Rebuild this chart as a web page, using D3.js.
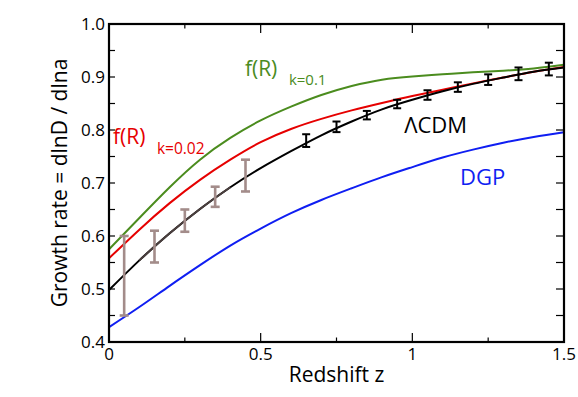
<!DOCTYPE html>
<html lang="en">
<head>
    <meta charset="UTF-8">
    <title>Growth rate vs redshift</title>
    <script src="https://cdnjs.cloudflare.com/ajax/libs/d3/7.8.5/d3.min.js"></script>
    <style>
        body {
            margin: 0;
            padding: 0;
            background-color: #fff;
            font-family: "Open Sans", sans-serif;
        }
    </style>
</head>
<body>
    <div id="chart"></div>

    <script>
        // Model curves
        const zGrid = [0, 0.1, 0.2, 0.3, 0.4, 0.5, 0.6, 0.7, 0.8, 0.9, 1.0, 1.1, 1.2, 1.3, 1.4, 1.5];
        const lcdm   = [0.498, 0.554, 0.605, 0.651, 0.692, 0.728, 0.760, 0.790, 0.816, 0.839, 0.857, 0.873, 0.887, 0.899, 0.910, 0.918];
        const frK002 = [0.558, 0.612, 0.662, 0.706, 0.744, 0.777, 0.802, 0.821, 0.837, 0.851, 0.864, 0.876, 0.888, 0.899, 0.910, 0.919];
        const frK01  = [0.575, 0.634, 0.692, 0.744, 0.785, 0.818, 0.844, 0.866, 0.883, 0.895, 0.901, 0.905, 0.909, 0.912, 0.916, 0.923];
        const dgp    = [0.428, 0.466, 0.506, 0.545, 0.582, 0.614, 0.643, 0.668, 0.690, 0.711, 0.730, 0.748, 0.763, 0.776, 0.787, 0.796];

        // Low-z measurements (grey) and forecast points (black)
        const lowZ   = [0.05, 0.15, 0.25, 0.35, 0.45];
        const lowF   = [0.525, 0.580, 0.629, 0.674, 0.714];
        const lowErr = [0.075, 0.030, 0.021, 0.019, 0.030];
        const highZ   = [0.65, 0.75, 0.85, 0.95, 1.05, 1.15, 1.25, 1.35, 1.45];
        const highF   = [0.780, 0.806, 0.828, 0.849, 0.866, 0.881, 0.895, 0.906, 0.915];
        const highErr = [0.012, 0.010, 0.008, 0.008, 0.009, 0.009, 0.010, 0.012, 0.012];

        const xMajor = [0, 0.5, 1, 1.5];
        const xMinor = [0.25, 0.75, 1.25];
        const yMajor = [0.4, 0.5, 0.6, 0.7, 0.8, 0.9, 1.0];
        const yMinor = [0.45, 0.55, 0.65, 0.75, 0.85, 0.95];

        const width = 578, height = 397;
        const margin = {top: 24, right: 14, bottom: 55, left: 109};
        const w = width - margin.left - margin.right;
        const h = height - margin.top - margin.bottom;

        const svg = d3.select("#chart").append("svg")
            .attr("width", width)
            .attr("height", height);
        const g = svg.append("g")
            .attr("transform", `translate(${margin.left},${margin.top})`);

        const x = d3.scaleLinear().domain([0, 1.5]).range([0, w]);
        const y = d3.scaleLinear().domain([0.4, 1.0]).range([h, 0]);

        const line = d3.line()
            .x(d => x(d[0]))
            .y(d => y(d[1]))
            .curve(d3.curveNatural);

        const series = [
            {vals: frK01, color: "#4b8c1e"},
            {vals: frK002, color: "#e60000"},
            {vals: dgp, color: "#0f1ef2"},
            {vals: lcdm, color: "#000"}
        ];
        g.selectAll(".curve")
            .data(series)
            .enter().append("path")
            .attr("class", "curve")
            .attr("fill", "none")
            .attr("stroke", d => d.color)
            .attr("stroke-width", 2)
            .attr("d", d => line(zGrid.map((z, i) => [z, d.vals[i]])));

        // lcdm looks greyer where it runs through the low-z data
        const lowPart = zGrid.map((z, i) => [z, lcdm[i]]).filter(d => d[0] >= 0.1 && d[0] <= 0.4);
        g.append("path")
            .attr("fill", "none")
            .attr("stroke", "#4a3f3e")
            .attr("stroke-width", 2)
            .attr("d", line(lowPart));

        function errorBars(zs, fs, es, color, sw, cap) {
            const eg = g.append("g")
                .attr("stroke", color)
                .attr("stroke-width", sw)
                .attr("fill", "none");
            zs.forEach((z, i) => {
                const cx = x(z), y0 = y(fs[i] - es[i]), y1 = y(fs[i] + es[i]);
                eg.append("line").attr("x1", cx).attr("x2", cx).attr("y1", y0).attr("y2", y1);
                eg.append("line").attr("x1", cx - cap).attr("x2", cx + cap).attr("y1", y0).attr("y2", y0);
                eg.append("line").attr("x1", cx - cap).attr("x2", cx + cap).attr("y1", y1).attr("y2", y1);
            });
        }
        errorBars(lowZ, lowF, lowErr, "#a38c8a", 2.6, 4.5);
        errorBars(highZ, highF, highErr, "#000", 2, 4);

        // Ticks, all pointing inward
        const tk = g.append("g").attr("stroke", "#000").attr("stroke-width", 1.2);
        function ticksX(vals, len) {
            vals.forEach(v => {
                tk.append("line").attr("x1", x(v)).attr("x2", x(v)).attr("y1", h).attr("y2", h - len);
                tk.append("line").attr("x1", x(v)).attr("x2", x(v)).attr("y1", 0).attr("y2", len);
            });
        }
        ticksX(xMajor, 9);
        ticksX(xMinor, 4.5);
        yMajor.concat(yMinor).forEach(v => {
            tk.append("line").attr("x1", 0).attr("x2", 6).attr("y1", y(v)).attr("y2", y(v));
            tk.append("line").attr("x1", w).attr("x2", w - 8).attr("y1", y(v)).attr("y2", y(v));
        });

        // Frame
        g.append("rect")
            .attr("width", w)
            .attr("height", h)
            .attr("fill", "none")
            .attr("stroke", "#000")
            .attr("stroke-width", 2.2);

        // Tick labels
        g.selectAll(".xl")
            .data(xMajor)
            .enter().append("text")
            .attr("x", d => x(d))
            .attr("y", h + 18)
            .attr("text-anchor", "middle")
            .style("font-size", "17px")
            .text(d => d3.format("")(d));
        g.selectAll(".yl")
            .data(yMajor)
            .enter().append("text")
            .attr("x", -4)
            .attr("y", d => y(d))
            .attr("dy", "0.36em")
            .attr("text-anchor", "end")
            .style("font-size", "17px")
            .text(d => d3.format(".1f")(d));

        // Axis titles
        g.append("text")
            .attr("x", w / 2)
            .attr("y", h + 40)
            .attr("text-anchor", "middle")
            .style("font-size", "21px")
            .text("Redshift z");
        g.append("text")
            .attr("transform", `translate(${-42},${h / 2}) rotate(-90)`)
            .attr("text-anchor", "middle")
            .style("font-size", "21px")
            .text("Growth rate = dlnD / dlna");

        // Curve labels
        function label(z, v, txt, color, size) {
            return g.append("text")
                .attr("x", x(z))
                .attr("y", y(v))
                .attr("fill", color)
                .style("font-size", size + "px")
                .text(txt);
        }
        label(0.448, 0.902, "f(R)", "#4b8c1e", 21);
        label(0.593, 0.884, "k=0.1", "#4b8c1e", 15);
        label(0.013, 0.774, "f(R)", "#e60000", 21);
        label(0.158, 0.755, "k=0.02", "#e60000", 15.5);
        label(0.973, 0.794, "\u039BCDM", "#000", 22);
        label(1.157, 0.696, "DGP", "#0f1ef2", 22);
    </script>
</body>
</html>
